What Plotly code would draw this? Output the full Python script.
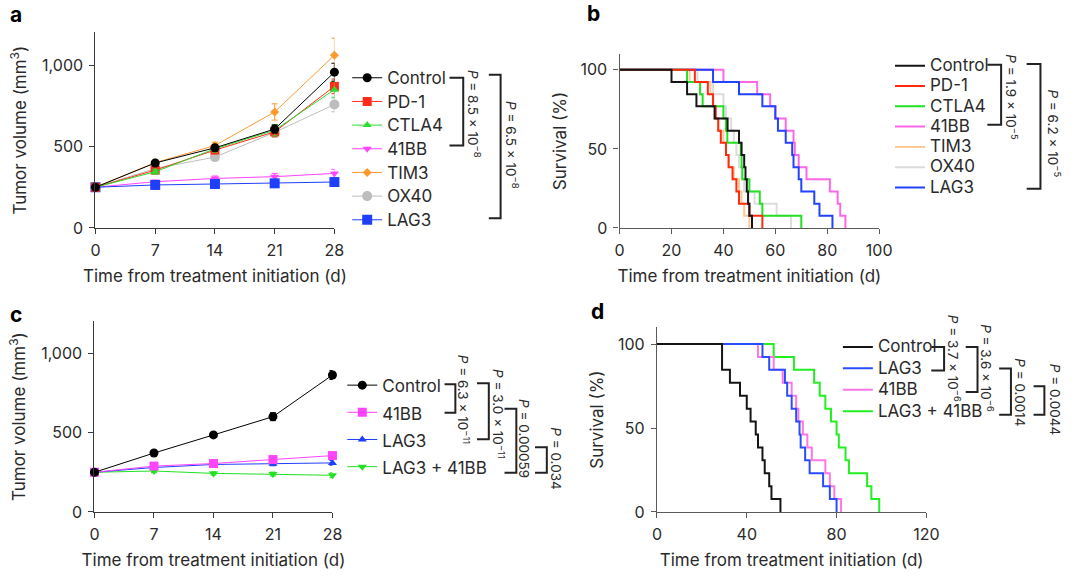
import plotly.graph_objects as go

W, H = 1080, 578
FONT = "Inter"
TXT = "#2a2a2a"

def px(x):
    return x / W

def py(y):
    return 1 - y / H

# ---------------- Panel a data ----------------
days = [0, 7, 14, 21, 28]
a_groups = ["Control", "PD-1", "CTLA4", "41BB", "TIM3", "OX40", "LAG3"]
a_control = [250, 399, 492, 607, 956]
a_pd1 = [250, 355, 478, 590, 869]
a_ctla4 = [250, 345, 486, 600, 849]
a_41bb = [250, 284, 304, 315, 335]
a_tim3 = [250, 401, 506, 712, 1060]
a_ox40 = [250, 365, 435, 587, 758]
a_lag3 = [250, 264, 270, 274, 282]
a_control_err = [8, 15, 20, 25, 55]
a_pd1_err = [8, 15, 20, 30, 45]
a_ctla4_err = [8, 15, 20, 35, 50]
a_41bb_err = [8, 10, 15, 20, 25]
a_tim3_err = [8, 15, 20, 50, 105]
a_ox40_err = [8, 15, 20, 30, 45]
a_lag3_err = [8, 10, 12, 15, 20]

# ---------------- Panel b data (death days, n = 13 per group) ----------------
b_n = 13
b_control = [20, 26, 29.6, 36.6, 41.6, 46, 47, 48, 48.5, 49, 49.5, 50, 51]
b_pd1 = [29, 34, 36, 37, 38, 39, 41, 42, 43.5, 45, 46, 50, 55]
b_ctla4 = [26, 31, 32, 40, 41, 41.5, 46.7, 47, 47.3, 50, 54, 55, 70]
b_41bb = [40, 53, 58, 60, 64, 67, 67.5, 69, 72, 81, 84, 85, 87]
b_tim3 = [27, 35, 36, 37, 38, 40, 41, 42, 44, 46, 47, 48, 50]
b_ox40 = [30, 36, 40, 41, 43, 44, 45, 46, 47, 48, 52, 60.5, 66]
b_lag3 = [36, 46, 55, 60, 61, 64, 66.5, 67, 69, 70, 75, 77, 82]

# ---------------- Panel c data ----------------
c_groups = ["Control", "41BB", "LAG3", "LAG3 + 41BB"]
c_control = [250, 371, 485, 600, 862]
c_41bb = [250, 289, 305, 330, 355]
c_lag3 = [250, 280, 299, 303, 309]
c_combo = [250, 258, 243, 239, 231]
c_control_err = [8, 15, 15, 25, 28]
c_41bb_err = [8, 10, 10, 12, 15]
c_lag3_err = [8, 10, 10, 12, 15]
c_combo_err = [8, 10, 10, 12, 15]

# ---------------- Panel d data (death days, n = 13 per group) ----------------
d_n = 13
d_control = [29, 29, 32.5, 37, 40, 41.7, 44, 45, 47, 48, 50, 51, 55]
d_lag3 = [47, 50, 57, 58, 60, 62, 63.5, 64, 66, 68, 74, 77, 80]
d_41bb = [45, 52, 56, 60, 62, 63, 65, 67, 69, 75, 77, 79, 82]
d_combo = [52, 61, 70, 72.5, 75, 77.5, 80, 81, 84, 85.5, 93.6, 95.5, 99]

# p-values
a_p = ["8.5 × 10<sup>−8</sup>", "6.5 × 10<sup>−8</sup>"]
b_p = ["1.9 × 10<sup>−5</sup>", "6.2 × 10<sup>−5</sup>"]
c_p = ["6.3 × 10<sup>−11</sup>", "3.0 × 10<sup>−11</sup>", "0.00059", "0.034"]
d_p = ["3.7 × 10<sup>−6</sup>", "3.6 × 10<sup>−6</sup>", "0.0014", "0.0044"]


def km(times, n):
    t = sorted(times)
    xs = [0] + t
    ys = [100] + [100 * (1 - (i + 1) / n) for i in range(len(t))]
    return xs, ys


def lab(s):
    return '<span style="font-size:17px">' + s + '</span>'


fig = go.Figure()

# ---- panel a traces ----
a_specs = [
    ("Control", a_control, a_control_err, "#000000", "circle", 9),
    ("PD-1", a_pd1, a_pd1_err, "#ff2a1a", "square", 9),
    ("CTLA4", a_ctla4, a_ctla4_err, "#2fdc2f", "triangle-up", 8),
    ("41BB", a_41bb, a_41bb_err, "#ff44ff", "triangle-down", 8),
    ("TIM3", a_tim3, a_tim3_err, "#ff9a2e", "diamond", 7),
    ("OX40", a_ox40, a_ox40_err, "#bdbdbd", "circle", 10),
    ("LAG3", a_lag3, a_lag3_err, "#1f3fff", "square", 10),
]
draw_order_a = [5, 3, 6, 1, 2, 4, 0]
for i in draw_order_a:
    name, vals, err, col, sym, sz = a_specs[i]
    fig.add_trace(go.Scatter(
        x=days, y=vals, name=lab(name), mode="lines+markers",
        error_y=dict(type="data", array=err, color=col, thickness=1, width=3),
        line=dict(color=col, width=1), marker=dict(symbol=sym, size=sz, color=col),
        xaxis="x", yaxis="y", legend="legend", legendrank=i + 1, cliponaxis=False))

# ---- panel b traces ----
b_specs = [
    ("Control", b_control, "#151515"),
    ("PD-1", b_pd1, "#ff2a10"),
    ("CTLA4", b_ctla4, "#22e022"),
    ("41BB", b_41bb, "#ff66e6"),
    ("TIM3", b_tim3, "#ffc896"),
    ("OX40", b_ox40, "#dcdcdc"),
    ("LAG3", b_lag3, "#2242ff"),
]
draw_order_b = [5, 4, 3, 6, 2, 1, 0]
for i in draw_order_b:
    name, times, col = b_specs[i]
    xs, ys = km(times, b_n)
    fig.add_trace(go.Scatter(
        x=xs, y=ys, name=lab(name), mode="lines", line=dict(color=col, width=2, shape="hv"),
        xaxis="x2", yaxis="y2", legend="legend2", legendrank=i + 1, cliponaxis=False))

# ---- panel c traces ----
c_specs = [
    ("Control", c_control, c_control_err, "#000000", "circle", 9),
    ("41BB", c_41bb, c_41bb_err, "#ff44ff", "square", 9),
    ("LAG3", c_lag3, c_lag3_err, "#1f3fff", "triangle-up", 8),
    ("LAG3 + 41BB", c_combo, c_combo_err, "#22e022", "triangle-down", 8),
]
for i in [3, 2, 1, 0]:
    name, vals, err, col, sym, sz = c_specs[i]
    fig.add_trace(go.Scatter(
        x=days, y=vals, name=lab(name), mode="lines+markers",
        error_y=dict(type="data", array=err, color=col, thickness=1, width=3),
        line=dict(color=col, width=1), marker=dict(symbol=sym, size=sz, color=col),
        xaxis="x3", yaxis="y3", legend="legend3", legendrank=i + 1, cliponaxis=False))

# ---- panel d traces ----
d_specs = [
    ("Control", d_control, "#151515"),
    ("LAG3", d_lag3, "#2a4cff"),
    ("41BB", d_41bb, "#ff77e6"),
    ("LAG3 + 41BB", d_combo, "#22ee22"),
]
for i in [3, 2, 1, 0]:
    name, times, col = d_specs[i]
    xs, ys = km(times, d_n)
    fig.add_trace(go.Scatter(
        x=xs, y=ys, name=lab(name), mode="lines", line=dict(color=col, width=2, shape="hv"),
        xaxis="x4", yaxis="y4", legend="legend4", legendrank=i + 1, cliponaxis=False))

# ---- axes ----
axis_common = dict(showline=True, linecolor="#3a3a3a", linewidth=1.3, ticks="outside",
                   ticklen=5, tickwidth=1.3, tickcolor="#3a3a3a", showgrid=False, zeroline=False,
                   ticklabelstandoff=3,
                   tickfont=dict(family=FONT, size=16, color=TXT), fixedrange=True)
km_axis = dict(axis_common, linecolor="#5a5a5a", tickcolor="#5a5a5a")
xt = dict(text="Time from treatment initiation (d)", font=dict(family=FONT, size=17, color=TXT))
yfont = dict(family=FONT, size=17, color=TXT)

fig.update_layout(
    xaxis=dict(axis_common, domain=[px(92), px(335)], anchor="y", range=[0, 28],
               tickvals=days, title=dict(xt, standoff=10)),
    yaxis=dict(axis_common, domain=[py(232), py(33)], anchor="x", range=[0, 1200],
               tickvals=[0, 500, 1000], ticktext=["0", "500", "1,000"],
               title=dict(text="Tumor volume (mm<sup>3</sup>)", font=yfont, standoff=11)),
    xaxis2=dict(km_axis, domain=[px(625), px(889)], anchor="y2", range=[0, 100],
                tickvals=[0, 20, 40, 60, 80, 100], title=dict(xt, standoff=10)),
    yaxis2=dict(km_axis, domain=[py(232), py(55)], anchor="x2", range=[0, 110],
                tickvals=[0, 50, 100],
                title=dict(text="Survival (%)", font=yfont, standoff=9)),
    xaxis3=dict(axis_common, domain=[px(91), px(333)], anchor="y3", range=[0, 28],
                tickvals=days, title=dict(xt, standoff=10)),
    yaxis3=dict(axis_common, domain=[py(521), py(327)], anchor="x3", range=[0, 1200],
                tickvals=[0, 500, 1000], ticktext=["0", "500", "1,000"],
                title=dict(text="Tumor volume (mm<sup>3</sup>)", font=yfont, standoff=11)),
    xaxis4=dict(km_axis, domain=[px(663), px(937)], anchor="y4", range=[0, 120],
                tickvals=[0, 40, 80, 120], title=dict(xt, standoff=10)),
    yaxis4=dict(km_axis, domain=[py(521), py(333)], anchor="x4", range=[0, 110],
                tickvals=[0, 50, 100],
                title=dict(text="Survival (%)", font=yfont, standoff=9)),
)

leg_common = dict(xanchor="left", yanchor="top", bgcolor="rgba(0,0,0,0)", borderwidth=0,
                  itemwidth=30, traceorder="normal", itemclick=False, itemdoubleclick=False)
fig.update_layout(
    legend=dict(leg_common, x=px(348), y=py(62), font=dict(family=FONT, size=15.9, color=TXT)),
    legend2=dict(leg_common, x=px(900), y=py(51.5), font=dict(family=FONT, size=13.3, color=TXT)),
    legend3=dict(leg_common, x=px(343), y=py(373), font=dict(family=FONT, size=18.6, color=TXT)),
    legend4=dict(leg_common, x=px(847), y=py(337), font=dict(family=FONT, size=14.2, color=TXT)),
)

# ---- brackets and p-values ----
shapes = []

def bracket(x0, x1, ytop, ybot, x0b=None):
    if x0b is None:
        x0b = x0
    path = "M {:.5f},{:.5f} L {:.5f},{:.5f} L {:.5f},{:.5f} L {:.5f},{:.5f}".format(
        px(x0), py(ytop), px(x1), py(ytop), px(x1), py(ybot), px(x0b), py(ybot))
    shapes.append(dict(type="path", xref="paper", yref="paper", path=path,
                       line=dict(color="#222222", width=2)))

annotations = []

def ptext(txt, x, y):
    annotations.append(dict(text="<i>P</i> = " + txt, x=px(x), y=py(y), xref="paper", yref="paper",
                            showarrow=False, textangle=90, xanchor="center", yanchor="middle",
                            font=dict(family=FONT, size=13.5, color=TXT)))

# a
bracket(452, 466, 79, 148)
ptext(a_p[0], 477, 116)
bracket(492, 504, 76, 222)
ptext(a_p[1], 515, 148)
# b
bracket(999, 1013, 66, 127)
ptext(b_p[0], 1023, 99)
bracket(1039, 1053, 65, 192)
ptext(b_p[1], 1067, 136)
# c
bracket(447, 458, 391, 420)
ptext(c_p[0], 466, 406)
bracket(480, 492, 390, 447)
ptext(c_p[1], 502, 421)
bracket(508, 520, 416, 481)
ptext(c_p[2], 527, 446)
bracket(539, 551, 455, 481)
ptext(c_p[3], 560, 466)
# d
bracket(942, 955, 353, 377)
ptext(d_p[0], 965, 365)
bracket(977, 989, 353, 399)
ptext(d_p[1], 999, 375)
bracket(1011, 1023, 375, 422)
ptext(d_p[2], 1032, 399)
bracket(1046, 1057, 393, 422)
ptext(d_p[3], 1068, 406)

# panel letters
for letter, x, y in [("a", 11, 15), ("b", 598, 14), ("c", 11, 320), ("d", 603, 317)]:
    annotations.append(dict(text="<b>" + letter + "</b>", x=px(x), y=py(y), xref="paper", yref="paper",
                            showarrow=False, xanchor="center", yanchor="middle",
                            font=dict(family=FONT, size=21, color="#000")))

fig.update_layout(
    width=W, height=H, margin=dict(l=0, r=0, t=0, b=0),
    paper_bgcolor="white", plot_bgcolor="white",
    font=dict(family=FONT, color=TXT),
    shapes=shapes, annotations=annotations, showlegend=True,
)

fig.write_html("out.html")
